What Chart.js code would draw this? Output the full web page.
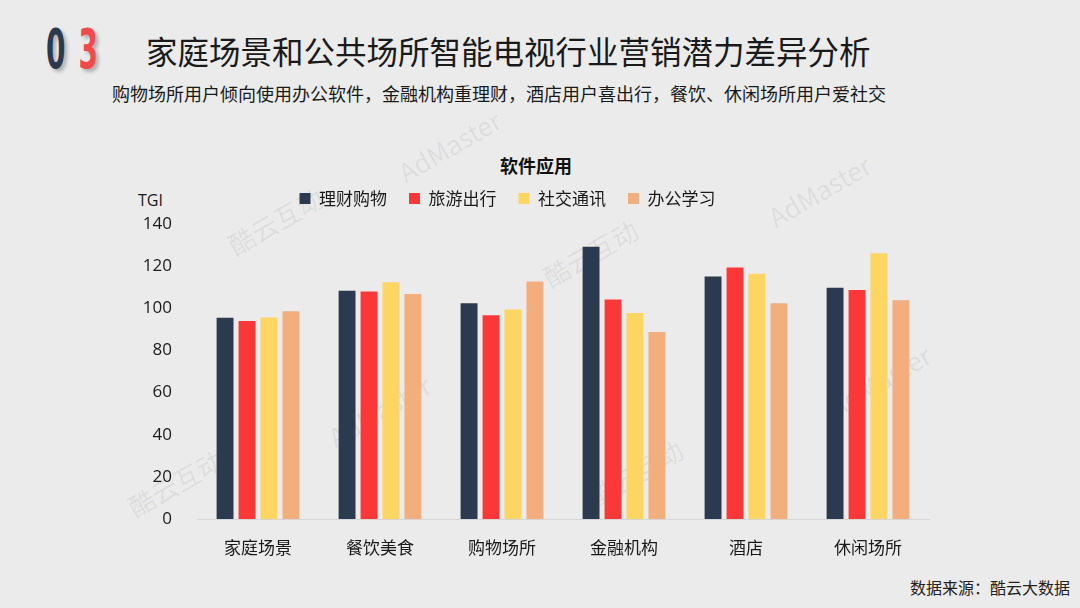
<!DOCTYPE html>
<html>
<head>
<meta charset="utf-8">
<script src="https://cdn.jsdelivr.net/npm/chart.js@4.4.1/dist/chart.umd.min.js"></script>
<style>
  html, body { margin: 0; padding: 0; }
  body {
    width: 1080px; height: 608px; overflow: hidden; position: relative;
    background: #ebebeb; font-family: "Noto Sans CJK SC", sans-serif; color: #222;
  }
  .abs { position: absolute; white-space: nowrap; }
  #logo { left: 46px; top: 14px; font-family: "DejaVu Sans", sans-serif; font-weight: bold;
          font-size: 56px; line-height: 70px; transform: scaleX(0.5); transform-origin: left top;
          letter-spacing: 26px; }
  #logo .d0 { color: #2b3a4e; text-shadow: 6px 3px 5px rgba(0,0,0,0.25); }
  #logo .d3 { color: #f04a4a; text-shadow: 6px 3px 5px rgba(0,0,0,0.25); }
  #title { left: 146px; top: 30px; font-size: 31.5px; line-height: 40px; color: #1a1a1a; }
  #subtitle { left: 112px; top: 81px; font-size: 18px; line-height: 24px; color: #1a1a1a; }
  #chartTitle { left: 500px; top: 154px; font-size: 18px; line-height: 22px; font-weight: bold; color: #111; }
  #tgi { left: 138px; top: 189px; font-size: 16px; line-height: 22px; color: #1a1a1a; font-family: "Open Sans", sans-serif; }
  #source { right: 10px; top: 576px; font-size: 16px; line-height: 22px; color: #222; }
  .wm { position: absolute; color: rgba(0,0,0,0.07); font-size: 26px; white-space: nowrap;
        transform: rotate(-30deg); transform-origin: left center; font-family: "Noto Sans CJK SC", sans-serif; }
  #chartBox { position: absolute; left: 130px; top: 168px; width: 810px; height: 404px; }
</style>
</head>
<body>
<div class="wm" style="left:400px;top:155px;">AdMaster</div>
<div class="wm" style="left:770px;top:200px;">AdMaster</div>
<div class="wm" style="left:230px;top:228px;">酷云互动</div>
<div class="wm" style="left:545px;top:260px;">酷云互动</div>
<div class="wm" style="left:330px;top:420px;">AdMaster</div>
<div class="wm" style="left:830px;top:390px;">AdMaster</div>
<div class="wm" style="left:130px;top:490px;">酷云互动</div>
<div class="wm" style="left:590px;top:480px;">酷云互动</div>

<div id="logo" class="abs"><span class="d0">0</span><span class="d3">3</span></div>
<div id="title" class="abs">家庭场景和公共场所智能电视行业营销潜力差异分析</div>
<div id="subtitle" class="abs">购物场所用户倾向使用办公软件，金融机构重理财，酒店用户喜出行，餐饮、休闲场所用户爱社交</div>
<div id="chartTitle" class="abs">软件应用</div>
<div id="tgi" class="abs">TGI</div>
<div id="source" class="abs">数据来源：酷云大数据</div>
<div id="chartBox"><canvas id="chart"></canvas></div>

<script>
// TGI by venue
const categories = ['家庭场景', '餐饮美食', '购物场所', '金融机构', '酒店', '休闲场所'];
const finance = [95.5, 108.3, 102.4, 129.2, 115.1, 109.8];   // 理财购物
const travel  = [94.0, 108.0, 96.7, 104.2, 119.3, 108.7];    // 旅游出行
const social  = [95.6, 112.3, 99.4, 97.8, 116.4, 126.1];     // 社交通讯
const office  = [98.6, 106.8, 112.7, 88.8, 102.4, 103.8];    // 办公学习
const yTicks = [0, 20, 40, 60, 80, 100, 120, 140];

const FONT = '"Noto Sans CJK SC", sans-serif';

function series(label, data, color) {
  return {
    label, data, backgroundColor: color, borderWidth: 0,
    categoryPercentage: 0.72, barPercentage: 0.77,
  };
}

// Legend sits a bit left of centre and leaves extra room below it.
const legendTweak = {
  id: 'legendTweak',
  beforeLayout(chart) {
    const lg = chart.legend;
    if (!lg || lg._patched) return;
    const fit = lg.fit;
    lg.fit = function () { fit.call(this); this.height += 7; };
    lg._patched = true;
  },
  afterLayout(chart) {
    if (chart.legend) chart.legend.left -= 44;
  },
};

new Chart(document.getElementById('chart'), {
  type: 'bar',
  data: {
    labels: categories,
    datasets: [
      series('理财购物', finance, '#2b3a4e'),
      series('旅游出行', travel, '#fb3837'),
      series('社交通讯', social, '#fdd563'),
      series('办公学习', office, '#f3ae7e'),
    ],
  },
  options: {
    responsive: true, maintainAspectRatio: false, animation: false,
    layout: { padding: { top: 0, right: 11, bottom: 0, left: 0 } },
    scales: {
      x: {
        grid: { display: false, drawTicks: false },
        border: { display: true, color: '#d6d6d6', width: 1 },
        ticks: { color: '#1a1a1a', font: { family: FONT, size: 17 }, padding: 18 },
        afterFit(scale) { scale.height = 53; },
      },
      y: {
        min: 0, max: 140,
        afterBuildTicks(scale) { scale.ticks = yTicks.map((v) => ({ value: v })); },
        grid: { display: false, drawTicks: false },
        border: { display: false },
        ticks: { color: '#1a1a1a', font: { family: '"Open Sans", sans-serif', size: 17 }, padding: 25 },
        afterFit(scale) { scale.width = 67; },
      },
    },
    plugins: {
      title: { display: false },
      legend: {
        display: true,
        labels: {
          color: '#1a1a1a', font: { family: FONT, size: 17 },
          boxWidth: 11, boxHeight: 11, padding: 22,
        },
      },
      tooltip: { enabled: false },
    },
  },
  plugins: [legendTweak],
});
</script>
</body>
</html>
